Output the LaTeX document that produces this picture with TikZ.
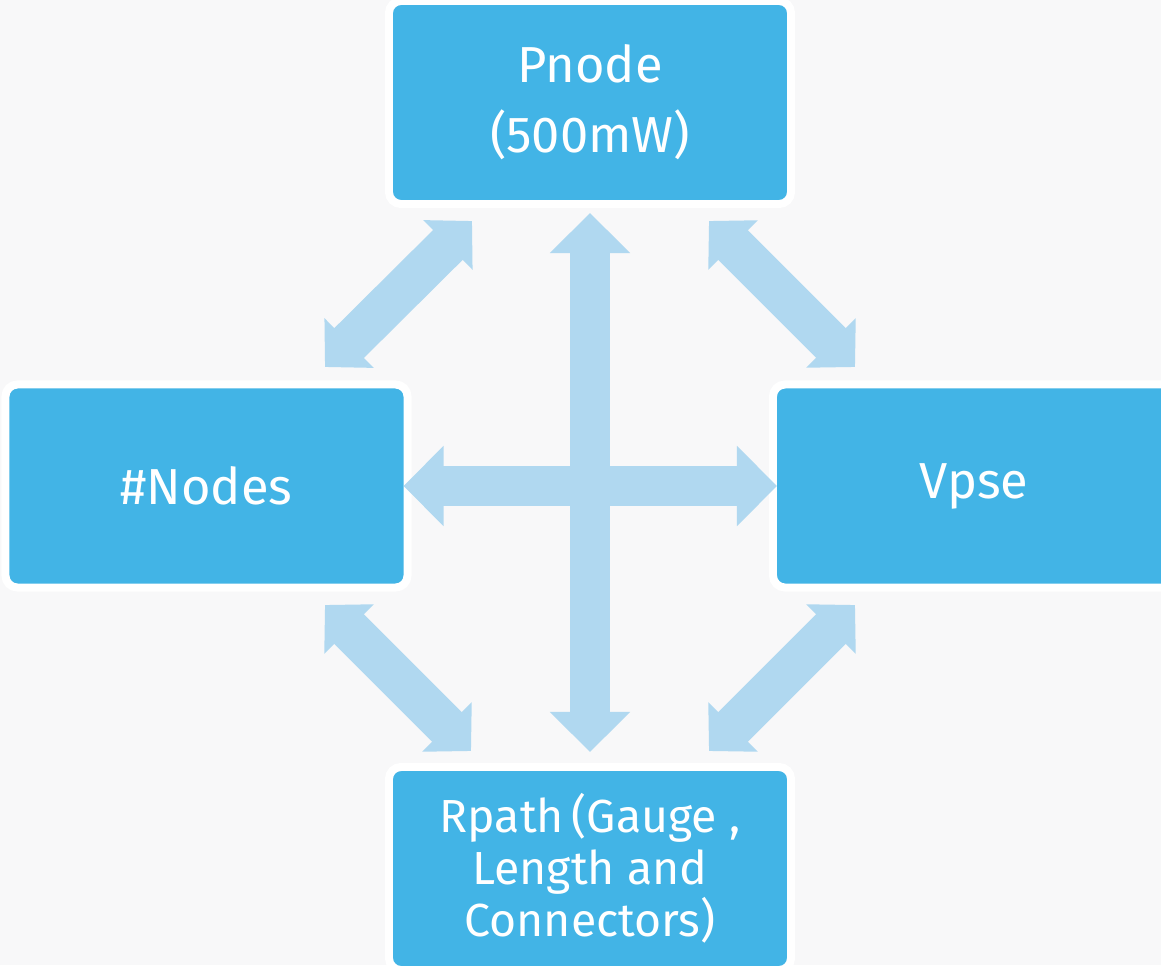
\documentclass[tikz,border=0pt]{standalone}
\usepackage{fontspec}
\setmainfont{Fira Sans}
\usetikzlibrary{arrows.meta}

\definecolor{boxblue}{HTML}{42B4E6}
\definecolor{arrowblue}{HTML}{B0D8F0}
\definecolor{bggray}{HTML}{F8F8F9}

\tikzset{
  box/.style={rectangle, rounded corners=0.3cm, fill=boxblue, draw=white,
    line width=0.2cm, outer sep=0pt, inner sep=0pt, text=white, align=center,
    minimum width=10.05cm, minimum height=5.075cm,
    font=\fontsize{36}{50}\selectfont},
  bigarrow/.style={draw=arrowblue, line width=1cm,
    {Triangle[width=1.95cm,length=1cm]}-{Triangle[width=1.95cm,length=1cm]}},
  diagarrow/.style={draw=arrowblue, line width=1.05cm,
    {Triangle[width=1.7cm,length=0.85cm]}-{Triangle[width=1.7cm,length=0.85cm]}}
}

\begin{document}
\begin{tikzpicture}[x=0.025cm, y=-0.025cm]
        \path[use as bounding box, fill=bggray] (0,0) rectangle (1161,965);
        \node[box] (pnode) at (590,102.5) {Pnode\\(500mW)};
        \node[box] (nodes) at (206.5,486) {\#Nodes};
        \node[box] (vpse) at (974,486) {Vpse};
        \node[box, font=\fontsize{33}{37}\selectfont] (rpath) at (590,868.5)
            {Rpath\,(Gauge ,\\ Length and\\Connectors)};
        % diagonal ends
        \coordinate (tl1) at (472,221);
        \coordinate (tl2) at (325,367);
        \coordinate (tr1) at (709,221);
        \coordinate (tr2) at (855,367);
        \coordinate (bl1) at (325,605);
        \coordinate (bl2) at (471,751);
        \coordinate (br1) at (855,605);
        \coordinate (br2) at (709,751);
        \draw[bigarrow, shorten <=0.225cm, shorten >=0.375cm] (pnode.south) -- (rpath.north);
        \draw[bigarrow, shorten <=-0.1cm, shorten >=-0.1cm] (nodes.east) -- (vpse.west);
        \draw[diagarrow] (tl1) -- (tl2);
        \draw[diagarrow] (tr1) -- (tr2);
        \draw[diagarrow] (bl1) -- (bl2);
        \draw[diagarrow] (br1) -- (br2);
    \end{tikzpicture}
\end{document}
